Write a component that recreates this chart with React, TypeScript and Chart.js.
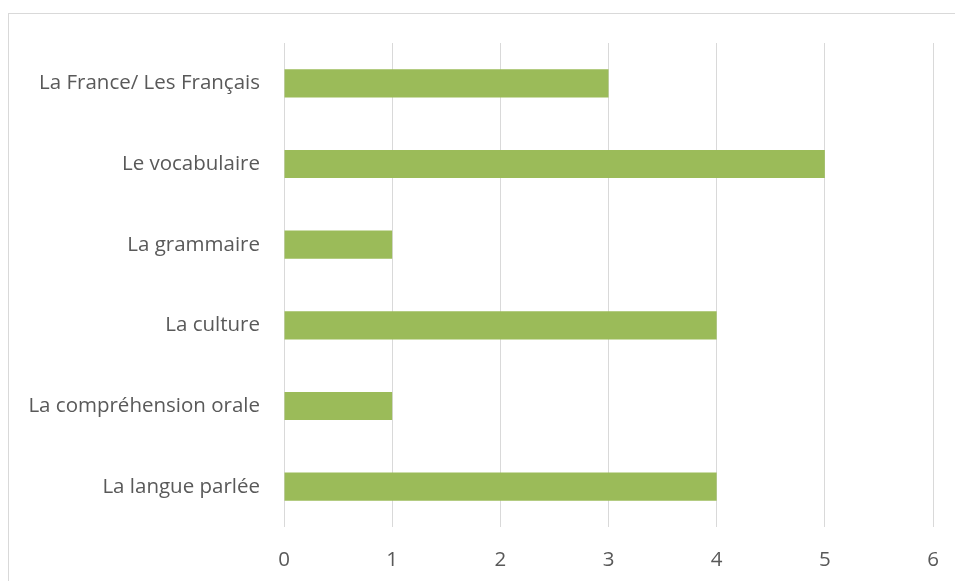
import React, { useEffect, useRef } from "react";
import { Chart, registerables } from "chart.js";

Chart.register(...registerables);

const categories = [
  "La France/ Les Français",
  "Le vocabulaire",
  "La grammaire",
  "La culture",
  "La compréhension orale",
  "La langue parlée",
];
const values = [3, 5, 1, 4, 1, 4];
const xMin = 0;
const xMax = 6;

const FONT = "'Open Sans', Lato, 'Liberation Sans', sans-serif";

export default function App() {
  const ref = useRef<HTMLCanvasElement | null>(null);
  useEffect(() => {
    if (!ref.current) return;
    const chart = new Chart(ref.current, {
      type: "bar",
      data: {
        labels: categories,
        datasets: [
          {
            data: values,
            backgroundColor: "#9BBB59",
            borderWidth: 0,
            categoryPercentage: 1,
            barPercentage: 0.35,
          },
        ],
      },
      options: {
        indexAxis: "y",
        animation: false,
        responsive: false,
        maintainAspectRatio: false,
        layout: { padding: { top: 29, right: 22, bottom: 0, left: 0 } },
        plugins: { legend: { display: false }, tooltip: { enabled: false } },
        scales: {
          x: {
            min: xMin,
            max: xMax,
            ticks: {
              stepSize: 1,
              color: "#595959",
              font: { family: FONT, size: 20.5 },
              padding: 21,
            },
            grid: { color: "#d9d9d9", lineWidth: 1, drawTicks: false },
            border: { display: false },
            afterFit: (s: any) => {
              s.height = 54;
              s.paddingLeft = 0;
              s.paddingRight = 0;
            },
          },
          y: {
            ticks: {
              color: "#595959",
              font: { family: FONT, size: 20.5 },
              padding: 24,
            },
            grid: { display: false, drawTicks: false },
            border: { display: false },
            afterFit: (s: any) => {
              s.width = 275;
              s.paddingTop = 0;
              s.paddingBottom = 0;
            },
          },
        },
      },
    });
    return () => chart.destroy();
  }, []);
  return (
    <div
      style={{
        position: "absolute",
        left: 8,
        top: 13,
        width: 947,
        height: 568,
        borderTop: "1px solid #d9d9d9",
        borderLeft: "1px solid #d9d9d9",
        boxSizing: "border-box",
        background: "#fff",
      }}
    >
      <canvas ref={ref} width={946} height={567} style={{ display: "block" }} />
    </div>
  );
}
